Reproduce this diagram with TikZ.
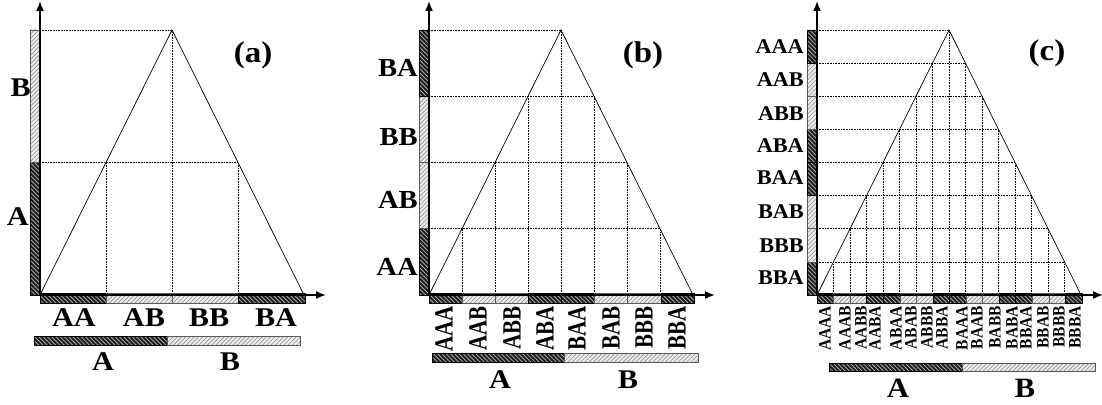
\documentclass[tikz,border=0pt]{standalone}
\usepackage{fontspec}
\setmainfont{Liberation Serif}
\usetikzlibrary{patterns.meta,arrows.meta}
\tikzset{
  darkbar/.style={draw=black, line width=0.6pt, preaction={fill=black!88},
    pattern={Lines[angle=-45,distance=3pt,line width=0.7pt]}, pattern color=gray!55},
  lightbar/.style={draw=black!65, line width=0.6pt, preaction={fill=gray!15},
    pattern={Lines[angle=45,distance=3pt,line width=0.8pt]}, pattern color=gray!75},
  axis/.style={line width=1.6pt, -{Latex[length=10pt,width=8pt]}},
  tri/.style={line width=0.7pt},
  gridl/.style={densely dotted, line width=0.6pt},
  lb/.style={font=\bfseries\fontsize{#1}{#1}\selectfont, inner sep=0pt},
}
\begin{document}
\begin{tikzpicture}[x=1pt,y=-1pt]
\useasboundingbox (0,0) rectangle (1102,404);
\foreach \ox/\N/\nm in {40/2/a, 429/4/b, 817/8/c} {
  \pgfmathtruncatemacro\NN{2*\N}
  \pgfmathtruncatemacro\Nm{\N-1}
  \pgfmathtruncatemacro\NNm{\NN-1}
  \coordinate (O\nm) at (\ox,295);
  \coordinate (P\nm) at (\ox+132,30);
  \coordinate (R\nm) at (\ox+264,295);
  % grid
  \foreach \k in {1,...,\NNm} {
    \pgfmathsetmacro\gx{\ox+\k*264/\NN}
    \pgfmathsetmacro\gy{295-265*min(\k,\NN-\k)/\N}
    \draw[gridl] (\gx,295) -- (\gx,\gy);
  }
  \foreach \j in {1,...,\N} {
    \pgfmathsetmacro\hy{295-265*\j/\N}
    \pgfmathsetmacro\hx{\ox+264-132*\j/\N}
    \draw[gridl] (\ox,\hy) -- (\hx,\hy);
  }
  % triangle
  \draw[tri] (O\nm) -- (P\nm) -- (R\nm);
  % vertical bar
  \foreach \i in {0,...,\Nm} {
    \pgfmathtruncatemacro\r{mod(\i,4)}
    \pgfmathsetmacro\ya{295-\i*265/\N}
    \pgfmathsetmacro\yb{295-(\i+1)*265/\N}
    \ifnum\r=1 \draw[lightbar] (\ox-9.5,\ya) rectangle (\ox,\yb);
    \else\ifnum\r=2 \draw[lightbar] (\ox-9.5,\ya) rectangle (\ox,\yb);
    \else \draw[darkbar] (\ox-9.5,\ya) rectangle (\ox,\yb);
    \fi\fi
  }
  % horizontal bar
  \foreach \i in {0,...,\NNm} {
    \pgfmathtruncatemacro\r{mod(\i,4)}
    \pgfmathsetmacro\xa{\ox+\i*265/\NN}
    \pgfmathsetmacro\xb{\ox+(\i+1)*265/\NN}
    \ifnum\r=1 \draw[lightbar] (\xa,293.5) rectangle (\xb,303);
    \else\ifnum\r=2 \draw[lightbar] (\xa,293.5) rectangle (\xb,303);
    \else \draw[darkbar] (\xa,293.5) rectangle (\xb,303);
    \fi\fi
  }
  % axes
  \draw[axis] (O\nm) -- ++(0,-294);
  \draw[axis] (O\nm) -- ++(286,0);
}
% second bars
\draw[darkbar] (34,336) rectangle (167,345);
\draw[lightbar] (167,336) rectangle (300,345);
\draw[darkbar] (432,353) rectangle (564,362);
\draw[lightbar] (564,353) rectangle (698,362);
\draw[darkbar] (829,363) rectangle (962,371);
\draw[lightbar] (962,363) rectangle (1095,371);

% ---- labels (a)
\node[lb=30, xscale=1.1] (ta) at (253,55) {(a)};
\node[lb=27, xscale=1.12, anchor=east] (aB) at (31,88) {B};
\node[lb=27, xscale=1.12, anchor=east] (aA) at (29,217) {A};
\foreach \t/\x in {AA/74, AB/144, BB/209, BA/276}
  \node[lb=27, xscale=1.12] (a\t) at (\x,318) {\t};
\node[lb=27, xscale=1.12] (aAbot) at (103,362) {A};
\node[lb=27, xscale=1.12] (aBbot) at (230,362) {B};

% ---- labels (b)
\node[lb=30, xscale=1.1] (tb) at (643,55) {(b)};
\foreach \t/\y in {BA/68, BB/137, AB/200, AA/267}
  \node[lb=26, xscale=1.1, anchor=east] (bv\t) at (418,\y) {\t};
\foreach \t/\x in {AAA/444, AAB/478, ABB/512, ABA/545, BAA/577, BAB/611, BBB/644, BBA/677}
  \node[lb=21, xscale=1.25, rotate=90, anchor=east] (bh\t) at (\x,306) {\t};
\node[lb=27, xscale=1.12] (bAbot) at (500,380) {A};
\node[lb=27, xscale=1.12] (bBbot) at (628,380) {B};

% ---- labels (c)
\node[lb=30, xscale=1.1] (tc) at (1047,53) {(c)};
\foreach \t/\y in {AAA/47, AAB/80, ABB/114, ABA/146, BAA/178, BAB/212, BBB/246, BBA/278}
  \node[lb=21, xscale=1.06, anchor=east] (cv\t) at (804,\y) {\t};
\foreach \t/\x in {AAAA/825, AAAB/845, AABB/861, AABA/875, ABAA/896, ABAB/911, ABBB/927, ABBA/942,
                   BAAA/962, BAAB/977, BABB/995, BABA/1012, BBAA/1026, BBAB/1043, BBBB/1059, BBBA/1075}
  \node[lb=15.5, xscale=1.12, rotate=90, anchor=east] (ch\t) at (\x,306) {\t};
\node[lb=28, xscale=1.1] (cAbot) at (898,388) {A};
\node[lb=28, xscale=1.1] (cBbot) at (1025,388) {B};
\end{tikzpicture}
\end{document}
